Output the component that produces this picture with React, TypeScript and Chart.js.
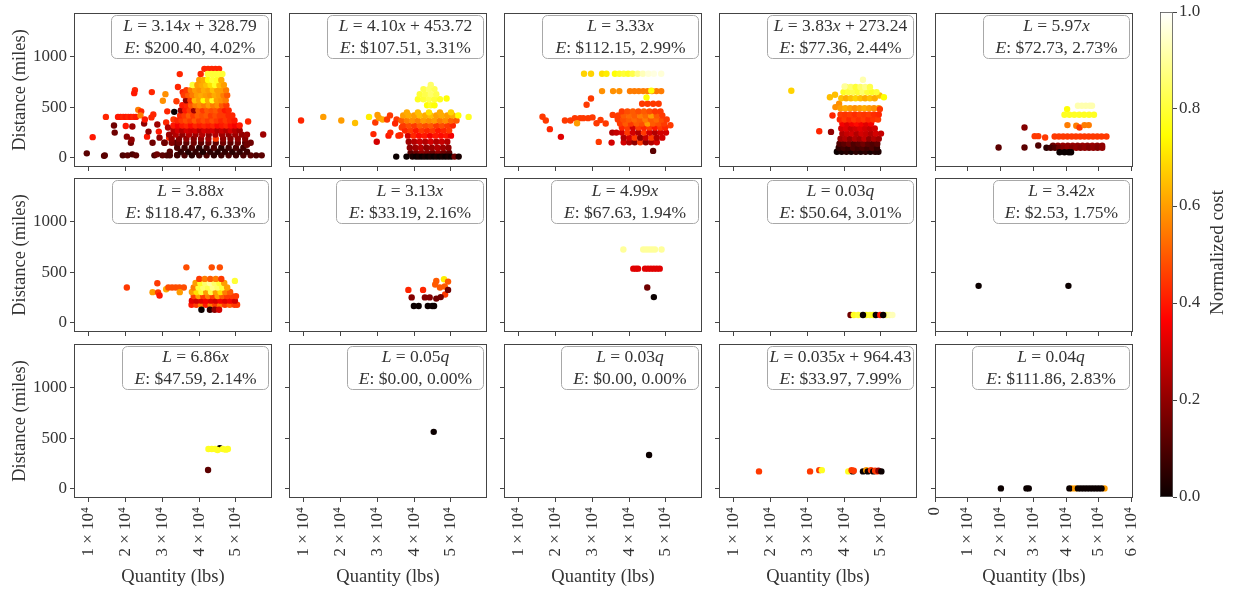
import React, { useEffect, useRef } from 'react';
import { Chart, registerables } from 'chart.js';

Chart.register(...registerables);

const FONT = '"Liberation Serif", "DejaVu Serif", serif';
const TEXT_COLOR = '#333333';
const AXIS_COLOR = '#444444';

// ---------- data: [quantity (lbs), distance (miles), normalized cost] ----------
const P01: number[][] = [
  [9400, 45, 0.12], [11000, 205, 0.4], [14100, 20, 0.1], [14300, 25, 0.12], [14600, 405, 0.42],
  [16800, 320, 0.15], [17000, 250, 0.15],
  [17900, 405, 0.4], [18600, 405, 0.4], [19300, 405, 0.42], [20000, 405, 0.4], [20700, 405, 0.42], [21400, 405, 0.4], [22100, 405, 0.42], [22800, 405, 0.4],
  [19200, 25, 0.1], [20500, 25, 0.12], [21800, 35, 0.1], [22800, 25, 0.12],
  [20000, 315, 0.4], [20300, 210, 0.2], [21400, 150, 0.15], [21600, 180, 0.2], [21800, 310, 0.22],
  [22500, 670, 0.42], [22300, 640, 0.4], [23400, 475, 0.55], [24200, 460, 0.42], [24000, 420, 0.55],
  [25000, 340, 0.2], [25200, 380, 0.4], [25800, 210, 0.4], [26200, 260, 0.2], [27100, 650, 0.42],
  [27000, 400, 0.42], [27500, 430, 0.42], [27300, 150, 0.15], [27800, 25, 0.1], [28500, 35, 0.15],
  [28600, 330, 0.22], [29000, 260, 0.4], [29200, 200, 0.2], [30100, 565, 0.58], [30800, 630, 0.58],
  [31300, 460, 0.42], [31000, 350, 0.42], [31500, 300, 0.25], [31800, 200, 0.42], [30600, 150, 0.2],
  [32000, 60, 0.12], [31200, 25, 0.1], [34700, 828, 0.42], [34200, 700, 0.42], [33800, 560, 0.45],
  [33000, 380, 0.45], [33400, 250, 0.2], [33600, 150, 0.12], [34000, 30, 0.1], [35500, 650, 0.42],
  [30000, 25, 0.12], [32000, 25, 0.1], [34000, 25, 0.08], [36000, 25, 0.1], [38000, 25, 0.05], [40000, 25, 0.08], [42000, 25, 0.1], [44000, 25, 0.05], [46000, 25, 0.08], [48000, 25, 0.1], [50000, 25, 0.08], [52000, 25, 0.1], [54000, 25, 0.12], [55500, 25, 0.1], [57000, 25, 0.12],
  [35000, 60, 0.06], [37000, 60, 0.04], [39000, 60, 0.06], [41000, 60, 0.03], [43000, 60, 0.05], [45000, 60, 0.04], [47000, 60, 0.06], [49000, 60, 0.05], [51000, 60, 0.06], [53000, 60, 0.08],
  [34000, 100, 0.1], [36000, 100, 0.08], [38000, 100, 0.1], [40000, 100, 0.05], [42000, 100, 0.08], [44000, 100, 0.1], [46000, 100, 0.05], [48000, 100, 0.08], [50000, 100, 0.1], [52000, 100, 0.08],
  [30500, 150, 0.15], [32500, 150, 0.18], [34500, 150, 0.15], [36500, 150, 0.12], [38500, 150, 0.15], [40500, 150, 0.12], [42500, 150, 0.15], [44500, 150, 0.12], [46500, 150, 0.15], [48500, 150, 0.12], [50500, 150, 0.15], [52500, 150, 0.12], [54000, 150, 0.15], [53000, 129, 0.15],
  [32500, 190, 0.2], [34500, 190, 0.18], [36500, 190, 0.2], [38500, 190, 0.18], [40500, 190, 0.2], [42500, 190, 0.22], [44500, 190, 0.45], [46500, 190, 0.2], [48500, 190, 0.18], [50500, 190, 0.2], [52500, 190, 0.18],
  [31800, 230, 0.22], [33600, 230, 0.25], [35400, 230, 0.2], [37200, 230, 0.25], [39000, 230, 0.22], [40800, 230, 0.25], [42600, 230, 0.2], [44400, 230, 0.25], [46200, 230, 0.22], [48000, 230, 0.2], [49800, 230, 0.22], [51600, 230, 0.2], [53000, 230, 0.22], [57400, 231, 0.22],
  [33000, 270, 0.25], [34200, 270, 0.3], [35400, 270, 0.25], [36600, 270, 0.3], [37800, 270, 0.28], [39000, 270, 0.3], [40200, 270, 0.25], [41400, 270, 0.3], [42600, 270, 0.28], [43800, 270, 0.3], [45000, 270, 0.25], [46200, 270, 0.28], [47400, 270, 0.25], [48600, 270, 0.3], [49800, 270, 0.25], [51000, 270, 0.22],
  [33000, 320, 0.4], [34200, 320, 0.35], [35400, 320, 0.4], [36600, 320, 0.42], [37800, 320, 0.38], [39000, 320, 0.42], [40200, 320, 0.4], [41400, 320, 0.42], [42600, 320, 0.4], [43800, 320, 0.42], [45000, 320, 0.38], [46200, 320, 0.4], [47400, 320, 0.42], [48600, 320, 0.38], [49800, 320, 0.35], [51000, 320, 0.4],
  [34000, 370, 0.42], [35200, 370, 0.45], [36400, 370, 0.48], [37600, 370, 0.45], [38800, 370, 0.5], [40000, 370, 0.45], [41200, 370, 0.48], [42400, 370, 0.45], [43600, 370, 0.48], [44800, 370, 0.45], [46000, 370, 0.42], [47200, 370, 0.45], [48400, 370, 0.42], [49600, 370, 0.4], [53300, 360, 0.42],
  [34800, 420, 0.42], [36000, 420, 0.45], [37200, 420, 0.5], [38400, 420, 0.45], [39600, 420, 0.5], [40800, 420, 0.48], [42000, 420, 0.5], [43200, 420, 0.45], [44400, 420, 0.48], [45600, 420, 0.45], [46800, 420, 0.45], [48000, 420, 0.42], [49000, 420, 0.42],
  [35000, 470, 0.22], [36200, 470, 0.4], [37400, 470, 0.45], [38600, 470, 0.22], [39800, 470, 0.5], [41000, 470, 0.45], [42200, 470, 0.5], [43400, 470, 0.48], [44600, 470, 0.5], [45800, 470, 0.45], [47000, 470, 0.4], [48000, 470, 0.42],
  [35400, 520, 0.4], [36600, 520, 0.42], [37800, 520, 0.5], [39000, 520, 0.55], [40200, 520, 0.58], [41400, 520, 0.55], [42600, 520, 0.6], [43800, 520, 0.55], [45000, 520, 0.58], [46200, 520, 0.5], [47400, 520, 0.45],
  [36400, 570, 0.2], [37600, 570, 0.45], [38800, 570, 0.65], [40000, 570, 0.6], [41200, 570, 0.75], [42400, 570, 0.62], [43600, 570, 0.78], [44800, 570, 0.6], [46000, 570, 0.58], [47200, 570, 0.55],
  [35800, 620, 0.45], [37000, 620, 0.5], [38200, 620, 0.55], [39400, 620, 0.6], [40600, 620, 0.62], [41800, 620, 0.6], [43000, 620, 0.58], [44200, 620, 0.62], [45400, 620, 0.6], [46600, 620, 0.55], [47600, 620, 0.5],
  [36500, 670, 0.45], [37700, 670, 0.55], [38900, 670, 0.6], [40100, 670, 0.58], [41300, 670, 0.62], [42500, 670, 0.6], [43700, 670, 0.65], [44900, 670, 0.6], [46100, 670, 0.6], [47300, 670, 0.55],
  [38200, 720, 0.8], [39500, 720, 0.6], [40700, 720, 0.62], [41900, 720, 0.65], [43100, 720, 0.7], [44300, 720, 0.78], [45500, 720, 0.65], [46700, 720, 0.6],
  [40000, 770, 0.6], [41200, 770, 0.62], [42400, 770, 0.75], [43600, 770, 0.8], [44800, 770, 0.78], [46000, 770, 0.62],
  [41400, 880, 0.42], [42400, 880, 0.42], [43400, 880, 0.42], [44400, 880, 0.42], [45400, 880, 0.42],
  [40400, 830, 0.42], [42300, 830, 0.8], [43300, 830, 0.8], [44300, 830, 0.8], [45300, 830, 0.8], [46300, 830, 0.8],
  [33200, 455, 0.0],
];

const P02: number[][] = [
  [9200, 370, 0.42], [15250, 405, 0.6], [20150, 370, 0.6], [23900, 345, 0.65], [27700, 405, 0.72],
  [29400, 350, 0.45], [30000, 425, 0.6], [30400, 395, 0.6], [31400, 380, 0.62], [28900, 235, 0.42], [29800, 160, 0.3],
  [33000, 220, 0.4], [33500, 250, 0.42], [32600, 380, 0.45], [33400, 420, 0.45],
  [35200, 380, 0.45], [35700, 220, 0.42], [36200, 225, 0.42], [34800, 340, 0.42], [36600, 300, 0.45],
  [39000, 50, 0.12], [40500, 50, 0.15], [42000, 50, 0.2], [43500, 50, 0.18], [45000, 50, 0.15], [46500, 50, 0.2], [48000, 50, 0.15], [49500, 50, 0.12],
  [38800, 100, 0.2], [40300, 100, 0.22], [41800, 100, 0.25], [43300, 100, 0.2], [44800, 100, 0.22], [46300, 100, 0.25], [47800, 100, 0.22], [49300, 100, 0.2],
  [38500, 160, 0.22], [40000, 160, 0.25], [41500, 160, 0.28], [43000, 160, 0.25], [44500, 160, 0.3], [46000, 160, 0.25], [47500, 160, 0.28], [49000, 160, 0.25],
  [38300, 220, 0.3], [39800, 220, 0.42], [41300, 220, 0.38], [42800, 220, 0.4], [44300, 220, 0.35], [45800, 220, 0.4], [47300, 220, 0.38], [48800, 220, 0.4], [50000, 220, 0.35],
  [37500, 270, 0.42], [39000, 270, 0.45], [40500, 270, 0.4], [42000, 270, 0.45], [43500, 270, 0.42], [45000, 270, 0.45], [46500, 270, 0.4], [48000, 270, 0.42], [49500, 270, 0.45],
  [37000, 320, 0.45], [38500, 320, 0.48], [40000, 320, 0.45], [41500, 320, 0.5], [43000, 320, 0.48], [44500, 320, 0.5], [46000, 320, 0.45], [47500, 320, 0.48], [49000, 320, 0.45], [50500, 320, 0.42],
  [36500, 370, 0.5], [38000, 370, 0.55], [39500, 370, 0.58], [41000, 370, 0.55], [42500, 370, 0.6], [44000, 370, 0.58], [45500, 370, 0.6], [47000, 370, 0.55], [48500, 370, 0.58], [50000, 370, 0.52], [51500, 370, 0.5],
  [37000, 420, 0.6], [38500, 420, 0.62], [40000, 420, 0.6], [41500, 420, 0.65], [43000, 420, 0.62], [44500, 420, 0.65], [46000, 420, 0.6], [47500, 420, 0.62], [49000, 420, 0.6], [50500, 420, 0.62], [52000, 420, 0.75], [54800, 405, 0.78],
  [38000, 450, 0.62], [41000, 450, 0.65], [44000, 450, 0.7], [47000, 450, 0.62], [50000, 450, 0.68],
  [43500, 520, 0.75], [44500, 520, 0.78], [45500, 520, 0.75],
  [41000, 580, 0.78], [42500, 580, 0.8], [44000, 580, 0.82], [45500, 580, 0.8], [47000, 580, 0.78], [48800, 587, 0.75],
  [41500, 630, 0.8], [43000, 630, 0.82], [44500, 630, 0.85], [46000, 630, 0.82],
  [42500, 680, 0.82], [44000, 680, 0.85], [45500, 680, 0.83], [44500, 720, 0.85],
  [35100, 13, 0.0], [37900, 13, 0.0], [39500, 13, 0.02], [40500, 13, 0.0], [41300, 13, 0.02], [42100, 13, 0.0], [42900, 13, 0.02], [43700, 13, 0.0], [44500, 13, 0.02], [45300, 13, 0.0], [46100, 13, 0.02], [46900, 13, 0.0], [47700, 13, 0.02], [48500, 13, 0.0], [49300, 13, 0.02], [50100, 13, 0.0], [51000, 13, 0.15], [52100, 13, 0.02],
];

const P03: number[][] = [
  [16400, 406, 0.45], [17300, 370, 0.45], [18400, 284, 0.42], [21400, 208, 0.32],
  [22500, 370, 0.45], [24000, 370, 0.45], [25200, 393, 0.45], [26600, 393, 0.45], [27500, 393, 0.45], [28800, 393, 0.45], [30000, 400, 0.45], [31100, 343, 0.45], [32200, 375, 0.45], [33600, 340, 0.45], [25800, 343, 0.6],
  [35500, 425, 0.45], [36800, 406, 0.45], [29600, 587, 0.45], [28400, 525, 0.45],
  [31700, 158, 0.45], [35200, 151, 0.3], [38500, 155, 0.3], [40000, 155, 0.25], [41500, 155, 0.2], [43000, 155, 0.45], [44500, 155, 0.2], [46000, 155, 0.25], [47500, 155, 0.3],
  [38500, 200, 0.25], [40000, 200, 0.3], [41500, 200, 0.45], [43000, 200, 0.2], [44500, 200, 0.28], [46000, 200, 0.45], [47500, 200, 0.25], [49000, 200, 0.3],
  [35400, 250, 0.25], [36500, 250, 0.28], [38000, 250, 0.3], [39500, 250, 0.45], [41000, 250, 0.3], [42500, 250, 0.25], [44000, 250, 0.45], [45500, 250, 0.3], [47000, 250, 0.25], [48500, 250, 0.3], [50000, 250, 0.3],
  [38000, 300, 0.42], [39500, 300, 0.45], [41000, 300, 0.3], [42500, 300, 0.45], [44000, 300, 0.42], [45500, 300, 0.45], [47000, 300, 0.4], [48500, 300, 0.45], [49800, 300, 0.42], [51200, 323, 0.45],
  [37500, 340, 0.45], [39000, 340, 0.5], [40500, 340, 0.45], [42000, 340, 0.5], [43500, 340, 0.48], [45000, 340, 0.6], [46500, 340, 0.5], [48000, 340, 0.48], [49500, 340, 0.45],
  [36900, 380, 0.45], [38400, 380, 0.48], [39900, 380, 0.5], [41400, 380, 0.52], [42900, 380, 0.5], [44400, 380, 0.55], [45900, 380, 0.5], [47400, 380, 0.52], [48900, 380, 0.48], [50200, 380, 0.45],
  [37000, 420, 0.45], [38500, 420, 0.5], [40000, 420, 0.52], [41500, 420, 0.5], [43000, 420, 0.55], [44500, 420, 0.52], [46000, 420, 0.6], [47500, 420, 0.5], [49000, 420, 0.45],
  [38000, 460, 0.45], [39500, 460, 0.48], [41000, 460, 0.5], [42500, 460, 0.48], [44000, 460, 0.5], [45500, 460, 0.48], [47000, 460, 0.45], [48500, 460, 0.45],
  [43500, 535, 0.45], [45000, 535, 0.45], [46500, 535, 0.45], [48000, 535, 0.45], [44700, 597, 0.75],
  [32600, 660, 0.58], [35600, 660, 0.58], [37300, 660, 0.58], [40200, 660, 0.55], [41400, 660, 0.55], [42600, 660, 0.55], [43800, 660, 0.55], [45000, 660, 0.55], [46200, 660, 0.55], [47400, 660, 0.55], [48700, 660, 0.55], [46000, 665, 0.75],
  [27700, 832, 0.68], [29600, 832, 0.68], [32600, 832, 0.7], [33800, 832, 0.72], [36100, 832, 0.75], [37300, 832, 0.78], [38500, 832, 0.8], [39700, 832, 0.78], [40900, 832, 0.82], [42300, 832, 0.88], [43700, 832, 0.93], [45200, 832, 0.96], [46700, 832, 0.97], [48700, 832, 0.96],
  [46500, 69, 0.12],
];

const P04: number[][] = [
  [25600, 663, 0.68],
  [38000, 60, 0.0], [39300, 60, 0.02], [40600, 60, 0.04], [41900, 60, 0.02], [43200, 60, 0.05], [44500, 60, 0.03], [45800, 60, 0.05], [47100, 60, 0.02], [48400, 60, 0.04], [49300, 60, 0.03],
  [38500, 100, 0.05], [39800, 100, 0.08], [41100, 100, 0.06], [42400, 100, 0.1], [43700, 100, 0.08], [45000, 100, 0.1], [46300, 100, 0.08], [47600, 100, 0.1], [48900, 100, 0.06],
  [38700, 140, 0.1], [40000, 140, 0.12], [41300, 140, 0.15], [42600, 140, 0.1], [43900, 140, 0.12], [45200, 140, 0.15], [46500, 140, 0.12], [47800, 140, 0.1], [49000, 140, 0.12],
  [39000, 190, 0.22], [40300, 190, 0.25], [41600, 190, 0.2], [42900, 190, 0.25], [44200, 190, 0.22], [45500, 190, 0.28], [46800, 190, 0.2], [48100, 190, 0.25], [49400, 190, 0.22],
  [39500, 240, 0.25], [40800, 240, 0.28], [42100, 240, 0.3], [43400, 240, 0.25], [44700, 240, 0.3], [46000, 240, 0.28], [47300, 240, 0.25], [48600, 240, 0.3], [50000, 240, 0.28],
  [33200, 264, 0.42], [36400, 257, 0.2],
  [39200, 290, 0.3], [40500, 290, 0.32], [41800, 290, 0.28], [43100, 290, 0.3], [44400, 290, 0.32], [45700, 290, 0.3], [47000, 290, 0.28], [48300, 290, 0.3],
  [39500, 340, 0.35], [40800, 340, 0.32], [42100, 340, 0.35], [43400, 340, 0.38], [44700, 340, 0.35], [46000, 340, 0.32], [47300, 340, 0.35],
  [38800, 380, 0.42], [40100, 380, 0.45], [41400, 380, 0.42], [42700, 380, 0.45], [44000, 380, 0.43], [45300, 380, 0.45], [46600, 380, 0.42], [47900, 380, 0.44], [49200, 380, 0.45],
  [39000, 430, 0.45], [40300, 430, 0.44], [41600, 430, 0.45], [42900, 430, 0.43], [44200, 430, 0.45], [45500, 430, 0.44], [46800, 430, 0.45], [48100, 430, 0.43], [49400, 430, 0.42], [36800, 419, 0.42],
  [38600, 535, 0.58], [37600, 502, 0.58],
  [39000, 490, 0.6], [40300, 490, 0.62], [41600, 490, 0.6], [42900, 490, 0.58], [44200, 490, 0.6], [45500, 490, 0.62], [46800, 490, 0.6], [48100, 490, 0.58], [49400, 490, 0.6], [49700, 482, 0.45],
  [39200, 590, 0.65], [40500, 590, 0.62], [41800, 590, 0.65], [43100, 590, 0.68], [44400, 590, 0.65], [45700, 590, 0.62], [47000, 590, 0.65], [48300, 590, 0.62],
  [36100, 600, 0.65], [37500, 624, 0.65], [49600, 617, 0.65], [50800, 600, 0.75],
  [39800, 650, 0.78], [41100, 650, 0.8], [42400, 650, 0.82], [43700, 650, 0.8], [45000, 650, 0.85], [46300, 650, 0.8], [47600, 650, 0.78], [48800, 650, 0.8],
  [40500, 700, 0.82], [41800, 700, 0.85], [43100, 700, 0.8], [44400, 700, 0.85], [45700, 700, 0.88], [47000, 700, 0.82], [40100, 706, 0.9],
  [45100, 772, 0.92],
];

const P05: number[][] = [
  [19400, 102, 0.12], [27300, 300, 0.18], [27300, 102, 0.12], [30400, 215, 0.45], [31500, 215, 0.45], [33600, 201, 0.45], [31500, 122, 0.1],
  [36500, 211, 0.45], [37800, 211, 0.45], [39100, 211, 0.45], [40400, 211, 0.45], [41700, 211, 0.45], [43000, 211, 0.45], [44300, 211, 0.45], [45600, 211, 0.45], [46900, 211, 0.45], [48200, 211, 0.45], [49500, 211, 0.45], [50800, 211, 0.45], [52300, 211, 0.45],
  [36000, 120, 0.15], [37500, 120, 0.2], [39000, 120, 0.22], [40500, 120, 0.2], [42000, 120, 0.22], [43500, 120, 0.2], [45000, 120, 0.22], [46500, 120, 0.2], [48000, 120, 0.22], [49500, 120, 0.2], [51000, 120, 0.2],
  [34000, 100, 0.05], [35300, 100, 0.08], [36600, 100, 0.1], [37900, 100, 0.15], [39200, 100, 0.18], [40500, 100, 0.2], [41800, 100, 0.18], [43100, 100, 0.2], [44400, 100, 0.18], [45700, 100, 0.2], [47000, 100, 0.18], [48300, 100, 0.2], [49600, 100, 0.18], [51000, 100, 0.2],
  [38000, 56, 0.0], [39500, 56, 0.0], [40800, 56, 0.0], [41500, 56, 0.0],
  [40400, 324, 0.55], [43100, 317, 0.55], [44100, 300, 0.45], [45600, 324, 0.55], [46900, 324, 0.55],
  [39500, 426, 0.78], [41000, 426, 0.78], [42500, 426, 0.78], [44000, 426, 0.78], [45500, 426, 0.78], [47000, 426, 0.78], [48500, 426, 0.78], [40300, 482, 0.75],
  [43600, 515, 0.92], [44800, 515, 0.92], [46000, 515, 0.92], [47200, 515, 0.92], [47900, 515, 0.92],
];

const P06: number[][] = [
  [20300, 350, 0.45], [27300, 304, 0.6], [28600, 392, 0.45], [28800, 300, 0.45], [29200, 270, 0.4], [31000, 333, 0.62],
  [31600, 350, 0.48], [32600, 350, 0.48], [33600, 350, 0.48], [34600, 350, 0.48], [35800, 350, 0.48], [34700, 304, 0.6],
  [36500, 549, 0.48], [43400, 549, 0.48], [45600, 549, 0.48],
  [37900, 180, 0.4], [39200, 180, 0.45], [40500, 180, 0.55], [41800, 180, 0.4], [43100, 180, 0.55], [44400, 180, 0.45], [45700, 180, 0.55], [47000, 180, 0.45], [48300, 180, 0.5], [49600, 180, 0.45], [50300, 180, 0.45],
  [38000, 220, 0.32], [39300, 220, 0.3], [40600, 220, 0.32], [41900, 220, 0.35], [43200, 220, 0.32], [44500, 220, 0.3], [45800, 220, 0.35], [47100, 220, 0.32], [48400, 220, 0.35], [49700, 220, 0.3],
  [38500, 265, 0.45], [39800, 265, 0.6], [41100, 265, 0.45], [42400, 265, 0.55], [43700, 265, 0.45], [45000, 265, 0.6], [46300, 265, 0.5], [47600, 265, 0.45], [48900, 265, 0.45], [50000, 265, 0.45],
  [38000, 305, 0.6], [39300, 305, 0.7], [40600, 305, 0.8], [41900, 305, 0.6], [43200, 305, 0.82], [44500, 305, 0.6], [45800, 305, 0.7], [47100, 305, 0.55], [48400, 305, 0.5],
  [38500, 350, 0.55], [39800, 350, 0.8], [41100, 350, 0.85], [42400, 350, 0.82], [43700, 350, 0.88], [45000, 350, 0.85], [46300, 350, 0.8], [47600, 350, 0.6],
  [39000, 395, 0.6], [40300, 395, 0.78], [41600, 395, 0.85], [42900, 395, 0.9], [44200, 395, 0.85], [45500, 395, 0.8], [46800, 395, 0.6], [49700, 415, 0.8],
  [40000, 435, 0.45], [41500, 435, 0.55], [43000, 435, 0.5], [44500, 435, 0.55], [46000, 435, 0.45],
  [40600, 130, 0.0], [42900, 130, 0.05], [44200, 130, 0.2], [45400, 130, 0.3],
];

const P07: number[][] = [
  [38400, 326, 0.42], [42400, 326, 0.42], [46000, 415, 0.5], [45700, 380, 0.5], [47000, 350, 0.5], [48300, 360, 0.5],
  [48100, 431, 0.72], [49200, 408, 0.5], [48400, 281, 0.45], [49200, 326, 0.15],
  [39300, 252, 0.18], [42900, 252, 0.18], [44200, 252, 0.18], [46000, 240, 0.15], [47200, 255, 0.15],
  [39900, 167, 0.0], [41200, 167, 0.0], [43700, 167, 0.0], [44900, 167, 0.0], [45400, 167, 0.0],
];

const P08: number[][] = [
  [38400, 725, 0.9], [43800, 725, 0.9], [44600, 725, 0.9], [45400, 725, 0.9], [46200, 725, 0.9], [47000, 725, 0.9], [48800, 725, 0.9],
  [41100, 536, 0.32], [41800, 536, 0.32], [42400, 536, 0.32], [44300, 536, 0.32], [45100, 536, 0.32], [45900, 536, 0.32], [46700, 536, 0.32], [47500, 536, 0.32], [48300, 536, 0.32],
  [44900, 350, 0.15], [46700, 255, 0.0],
];

const P09: number[][] = [
  [41700, 78, 0.15], [42600, 78, 0.78], [43800, 78, 0.8], [46000, 78, 0.78], [47000, 78, 0.8], [47900, 78, 0.78],
  [51500, 78, 0.85], [52400, 78, 0.9], [53100, 78, 0.93], [45100, 78, 0.0], [48600, 78, 0.0], [49800, 78, 0.4], [50600, 78, 0.0],
];

const P10: number[][] = [[13300, 366, 0.0], [40700, 366, 0.0]];

const P11: number[][] = [
  [45600, 403, 0.0], [42500, 394, 0.78], [43400, 394, 0.78], [44300, 394, 0.78], [45000, 385, 0.78], [46400, 394, 0.78], [47200, 388, 0.78], [47800, 394, 0.78],
  [42400, 187, 0.12],
];

const P12: number[][] = [[45300, 564, 0.0]];

const P13: number[][] = [[45400, 335, 0.0]];

const P14: number[][] = [
  [16800, 173, 0.45], [30700, 173, 0.45], [33200, 185, 0.45], [33900, 185, 0.78], [41100, 173, 0.78], [42300, 173, 0.0],
  [42000, 185, 0.45], [42600, 180, 0.45], [45100, 173, 0.0], [46000, 185, 0.6], [46400, 173, 0.0], [47300, 185, 0.45],
  [47900, 173, 0.0], [48400, 180, 0.45], [48900, 173, 0.45], [49300, 180, 0.2], [50100, 173, 0.0],
];

const P15: number[][] = [
  [20100, 5, 0.0], [27900, 5, 0.0], [28600, 5, 0.0], [41700, 5, 0.6], [41000, 5, 0.0], [42800, 5, 0.6], [43600, 5, 0.0],
  [44500, 5, 0.0], [45400, 5, 0.0], [46300, 5, 0.0], [47200, 5, 0.0], [48100, 5, 0.0], [49000, 5, 0.0], [49900, 5, 0.0],
  [51700, 5, 0.6], [50800, 5, 0.0],
];

const PANELS = [P01, P02, P03, P04, P05, P06, P07, P08, P09, P10, P11, P12, P13, P14, P15];

const EQUATIONS = [
  'L = 3.14x + 328.79', 'L = 4.10x + 453.72', 'L = 3.33x', 'L = 3.83x + 273.24', 'L = 5.97x',
  'L = 3.88x', 'L = 3.13x', 'L = 4.99x', 'L = 0.03q', 'L = 3.42x',
  'L = 6.86x', 'L = 0.05q', 'L = 0.03q', 'L = 0.035x + 964.43', 'L = 0.04q',
];
const ERRORS = [
  'E: $200.40, 4.02%', 'E: $107.51, 3.31%', 'E: $112.15, 2.99%', 'E: $77.36, 2.44%', 'E: $72.73, 2.73%',
  'E: $118.47, 6.33%', 'E: $33.19, 2.16%', 'E: $67.63, 1.94%', 'E: $50.64, 3.01%', 'E: $2.53, 1.75%',
  'E: $47.59, 2.14%', 'E: $0.00, 0.00%', 'E: $0.00, 0.00%', 'E: $33.97, 7.99%', 'E: $111.86, 2.83%',
];

const X_TICKS_SHARED = [10000, 20000, 30000, 40000, 50000];
const X_TICKS_LAST = [0, 10000, 20000, 30000, 40000, 50000, 60000];
const Y_TICKS = [0, 500, 1000];
const CBAR_TICKS = [0, 0.2, 0.4, 0.6, 0.8, 1.0];

const X_TITLE = 'Quantity (lbs)';
const Y_TITLE = 'Distance (miles)';
const CBAR_TITLE = 'Normalized cost';

// ---------- layout (style) ----------
const COL_LEFT = [74, 289, 504, 719, 935];
const ROW_TOP = [13, 178, 344];
const PW = 198;
const PH = 154;
const PAD_L = 74;
const PAD_T = 13;
const PAD_R = 10;
const PAD_B = 95;
const BOX_W = [157, 156, 156, 146, 146, 156, 147, 147, 146, 136, 146, 136, 137, 146, 157];

// matplotlib "hot" colormap
function hot(v: number): string {
  const t = Math.max(0, Math.min(1, v));
  const r = t < 0.365079 ? 0.0416 + (1 - 0.0416) * (t / 0.365079) : 1;
  const g = t < 0.365079 ? 0 : t < 0.746032 ? (t - 0.365079) / (0.746032 - 0.365079) : 1;
  const b = t < 0.746032 ? 0 : (t - 0.746032) / (1 - 0.746032);
  return `rgb(${Math.round(r * 255)},${Math.round(g * 255)},${Math.round(b * 255)})`;
}

function drawRich(ctx: CanvasRenderingContext2D, text: string, cx: number, cy: number, size: number) {
  const segs: { t: string; it: boolean; w: number }[] = [];
  for (const ch of text) {
    const it = /[A-Za-z]/.test(ch);
    const last = segs[segs.length - 1];
    if (last && last.it === it) last.t += ch;
    else segs.push({ t: ch, it, w: 0 });
  }
  let total = 0;
  for (const s of segs) {
    ctx.font = `${s.it ? 'italic ' : ''}${size}px ${FONT}`;
    s.w = ctx.measureText(s.t).width;
    total += s.w;
  }
  let x = cx - total / 2;
  ctx.textAlign = 'left';
  ctx.textBaseline = 'middle';
  ctx.fillStyle = TEXT_COLOR;
  for (const s of segs) {
    ctx.font = `${s.it ? 'italic ' : ''}${size}px ${FONT}`;
    ctx.fillText(s.t, x, cy);
    x += s.w;
  }
}

const panelDeco = {
  id: 'panelDeco',
  afterDatasetsDraw(chart: any, _args: any, opts: any) {
    const { ctx, chartArea: a } = chart;
    const idx: number = opts.idx;
    const row = Math.floor(idx / 5);
    const col = idx % 5;
    ctx.save();
    ctx.strokeStyle = AXIS_COLOR;
    ctx.lineWidth = 1;
    ctx.strokeRect(a.left + 0.5, a.top + 0.5, a.right - a.left - 1, a.bottom - a.top - 1);
    const bw = BOX_W[idx];
    const bx = a.right - 3.5 - bw;
    const by = a.top + 2.5;
    ctx.beginPath();
    ctx.roundRect(bx, by, bw, 43, 5);
    ctx.fillStyle = 'rgba(255,255,255,0.85)';
    ctx.fill();
    ctx.strokeStyle = '#a8a8a8';
    ctx.lineWidth = 1;
    ctx.stroke();
    drawRich(ctx, EQUATIONS[idx], bx + bw / 2, a.top + 13, 17.5);
    drawRich(ctx, ERRORS[idx], bx + bw / 2, a.top + 35, 17.5);
    ctx.fillStyle = TEXT_COLOR;
    ctx.font = `18.5px ${FONT}`;
    ctx.textAlign = 'center';
    ctx.textBaseline = 'middle';
    if (row === 2) {
      ctx.fillText(X_TITLE, (a.left + a.right) / 2, a.bottom + 79);
    }
    if (col === 0) {
      ctx.translate(a.left - 54, (a.top + a.bottom) / 2);
      ctx.rotate(-Math.PI / 2);
      ctx.fillText(Y_TITLE, 0, 0);
    }
    ctx.restore();
  },
};

const cbarDeco = {
  id: 'cbarDeco',
  beforeDatasetsDraw(chart: any) {
    const { ctx, chartArea: a } = chart;
    ctx.save();
    const grad = ctx.createLinearGradient(0, a.bottom, 0, a.top);
    const stops = [0, 0.1, 0.2, 0.3, 0.365079, 0.45, 0.55, 0.65, 0.746032, 0.85, 0.95, 1];
    for (const s of stops) grad.addColorStop(s, hot(s));
    ctx.fillStyle = grad;
    ctx.fillRect(a.left, a.top, a.right - a.left, a.bottom - a.top);
    ctx.strokeStyle = '#555';
    ctx.lineWidth = 0.8;
    ctx.strokeRect(a.left + 0.4, a.top + 0.4, a.right - a.left - 0.8, a.bottom - a.top - 0.8);
    ctx.fillStyle = TEXT_COLOR;
    ctx.font = `19px ${FONT}`;
    ctx.textAlign = 'center';
    ctx.textBaseline = 'middle';
    ctx.translate(68, (a.top + a.bottom) / 2 - 2);
    ctx.rotate(-Math.PI / 2);
    ctx.fillText(CBAR_TITLE, 0, 0);
    ctx.restore();
  },
};

function Panel({ idx }: { idx: number }) {
  const ref = useRef<HTMLCanvasElement>(null);
  const row = Math.floor(idx / 5);
  const col = idx % 5;
  const W = PAD_L + PW + PAD_R;
  const H = PAD_T + PH + PAD_B;
  useEffect(() => {
    const pts = PANELS[idx];
    const xt = col === 4 ? X_TICKS_LAST : X_TICKS_SHARED;
    const grid = { display: true, drawOnChartArea: false, drawTicks: true, tickLength: 4, color: AXIS_COLOR, lineWidth: 1 };
    const chart = new Chart(ref.current as HTMLCanvasElement, {
      type: 'scatter',
      data: {
        datasets: [{
          data: pts.map((p) => ({ x: p[0], y: p[1] })),
          pointRadius: 3.2,
          pointHoverRadius: 3.2,
          pointBorderWidth: 0,
          pointBackgroundColor: pts.map((p) => hot(p[2])),
        }],
      },
      options: {
        responsive: false,
        animation: false,
        events: [],
        layout: { padding: { left: 0, top: PAD_T, right: PAD_R, bottom: 0 }, autoPadding: false },
        plugins: { legend: { display: false }, tooltip: { enabled: false }, panelDeco: { idx } } as any,
        scales: {
          x: {
            type: 'linear',
            min: col === 4 ? 0 : 5920,
            max: col === 4 ? 60400 : 59800,
            afterBuildTicks: (s: any) => { s.ticks = xt.map((v) => ({ value: v })); },
            afterFit: (s: any) => { s.height = PAD_B; s.paddingLeft = 0; s.paddingRight = 0; },
            grid,
            border: { display: false },
            ticks: {
              display: row === 2,
              autoSkip: false,
              minRotation: 90,
              maxRotation: 90,
              padding: 5,
              color: TEXT_COLOR,
              font: { family: FONT, size: 17 },
              callback: (v: any) => (v === 0 ? '0' : `${v / 10000} × 10⁴`),
            },
          },
          y: {
            type: 'linear',
            min: -90,
            max: 1432,
            afterBuildTicks: (s: any) => { s.ticks = Y_TICKS.map((v) => ({ value: v })); },
            afterFit: (s: any) => { s.width = PAD_L; s.paddingTop = 0; s.paddingBottom = 0; },
            grid,
            border: { display: false },
            ticks: {
              display: col === 0,
              padding: 3,
              color: TEXT_COLOR,
              font: { family: FONT, size: 17 },
              callback: (v: any) => String(v),
            },
          },
        },
      },
      plugins: [panelDeco],
    } as any);
    return () => chart.destroy();
  }, [idx]);
  return (
    <canvas
      ref={ref}
      width={W}
      height={H}
      style={{ position: 'absolute', left: COL_LEFT[col] - PAD_L, top: ROW_TOP[row] - PAD_T, width: W, height: H }}
    />
  );
}

function ColorBar() {
  const ref = useRef<HTMLCanvasElement>(null);
  useEffect(() => {
    const chart = new Chart(ref.current as HTMLCanvasElement, {
      type: 'scatter',
      data: { datasets: [] },
      options: {
        responsive: false,
        animation: false,
        events: [],
        layout: { padding: { left: 10, top: 12, right: 0, bottom: 96 }, autoPadding: false },
        plugins: { legend: { display: false }, tooltip: { enabled: false } },
        scales: {
          x: { display: false, min: 0, max: 1 },
          y: {
            position: 'right',
            min: 0,
            max: 1,
            afterBuildTicks: (s: any) => { s.ticks = CBAR_TICKS.map((v) => ({ value: v })); },
            afterFit: (s: any) => { s.width = 60; s.paddingTop = 0; s.paddingBottom = 0; },
            grid: { display: true, drawOnChartArea: false, drawTicks: true, tickLength: 4, color: AXIS_COLOR, lineWidth: 1 },
            border: { display: false },
            ticks: {
              padding: 2,
              color: TEXT_COLOR,
              font: { family: FONT, size: 17 },
              callback: (v: any) => Number(v).toFixed(1),
            },
          },
        },
      },
      plugins: [cbarDeco],
    } as any);
    return () => chart.destroy();
  }, []);
  return <canvas ref={ref} width={83} height={593} style={{ position: 'absolute', left: 1150, top: 0, width: 83, height: 593 }} />;
}

export default function App() {
  return (
    <div style={{ position: 'absolute', left: 0, top: 0, width: 1233, height: 593, background: '#fff', overflow: 'hidden' }}>
      {PANELS.map((_, i) => <Panel key={i} idx={i} />)}
      <ColorBar />
    </div>
  );
}
